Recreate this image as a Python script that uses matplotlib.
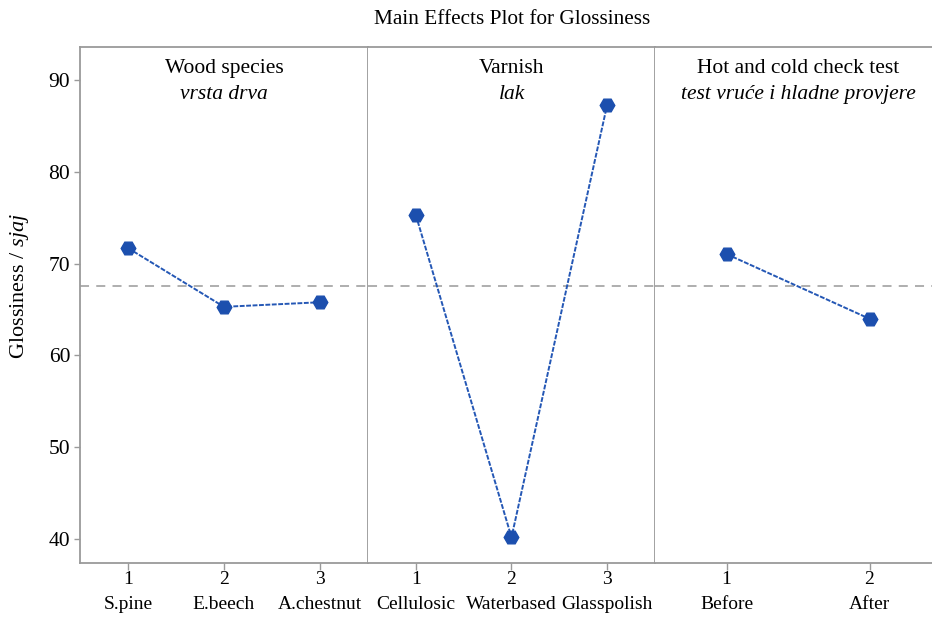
import matplotlib
matplotlib.use('Agg')
import matplotlib.pyplot as plt
import numpy as np

plt.rcParams['font.family'] = 'Liberation Serif'
plt.rcParams['mathtext.fontset'] = 'custom'
plt.rcParams['mathtext.rm'] = 'Liberation Serif'
plt.rcParams['mathtext.it'] = 'Liberation Serif:italic'

# factor means for glossiness
wood_levels = ['S.pine', 'E.beech', 'A.chestnut']
wood_means = [71.7, 65.3, 65.8]

varnish_levels = ['Cellulosic', 'Waterbased', 'Glasspolish']
varnish_means = [75.3, 40.2, 87.3]

check_levels = ['Before', 'After']
check_means = [71.05, 64.0]

grand_mean = 67.6

panel_titles = ['Wood species', 'Varnish', 'Hot and cold check test']
panel_subtitles = ['vrsta drva', 'lak', 'test vruće i hladne provjere']

LINE_COLOR = '#2457b5'
MARKER_COLOR = '#1c4fae'
FRAME_COLOR = '#9a9a9a'
TICK_FS = 14
HEAD_FS = 15.5

W, H = 932, 617
fig = plt.figure(figsize=(W / 100, H / 100), dpi=100)

# panel edges in pixels (third panel runs past the right edge)
edges = [80, 368, 655, 941]
bottom, top = 563, 47

factors = [(wood_levels, wood_means), (varnish_levels, varnish_means), (check_levels, check_means)]
axes = []
for i, (levels, means) in enumerate(factors):
    x0, x1 = edges[i], edges[i + 1]
    ax = fig.add_axes([x0 / W, 1 - bottom / H, (x1 - x0) / W, (bottom - top) / H])
    axes.append(ax)
    xs = np.arange(1, len(levels) + 1)
    ax.axhline(grand_mean, color='#a8a8a8', lw=1.3, ls=(0, (5, 4)), zorder=1)
    ax.plot(xs, means, color=LINE_COLOR, lw=1.4, ls=(0, (2.5, 0.8)), zorder=2)
    ax.plot(xs, means, ls='none', marker='H', ms=10.5, color=MARKER_COLOR,
            markeredgecolor=MARKER_COLOR, zorder=3)
    ax.set_xlim(0.5, len(levels) + 0.5)
    ax.set_ylim(37.4, 93.6)
    ax.set_xticks(xs)
    ax.set_xticklabels(['%d\n%s' % (k, name) for k, name in zip(xs, levels)],
                       fontsize=TICK_FS, linespacing=1.6)
    ax.tick_params(axis='x', direction='out', length=5, width=1, color=FRAME_COLOR, pad=1)
    for sp in ax.spines.values():
        sp.set_color(FRAME_COLOR)
        sp.set_linewidth(1.3)
    if i == 0:
        ax.set_yticks([40, 50, 60, 70, 80, 90])
        ax.tick_params(axis='y', direction='out', length=4, width=1, color=FRAME_COLOR,
                       labelsize=15.5, pad=3)
    else:
        ax.set_yticks([])
        ax.spines['left'].set_visible(False)
    ax.text(0.5, 0.959, panel_titles[i], transform=ax.transAxes, ha='center', va='center',
            fontsize=HEAD_FS)
    ax.text(0.5, 0.908, panel_subtitles[i], transform=ax.transAxes, ha='center', va='center',
            fontsize=HEAD_FS, style='italic')

fig.text(512 / W, 1 - 20 / H, 'Main Effects Plot for Glossiness', ha='center', va='center',
         fontsize=15.3)
fig.text(20 / W, 1 - 286 / H, r'Glossiness / $\mathit{sjaj}$', rotation=90,
         ha='center', va='center', fontsize=16)

fig.savefig('out.png', dpi=100)
